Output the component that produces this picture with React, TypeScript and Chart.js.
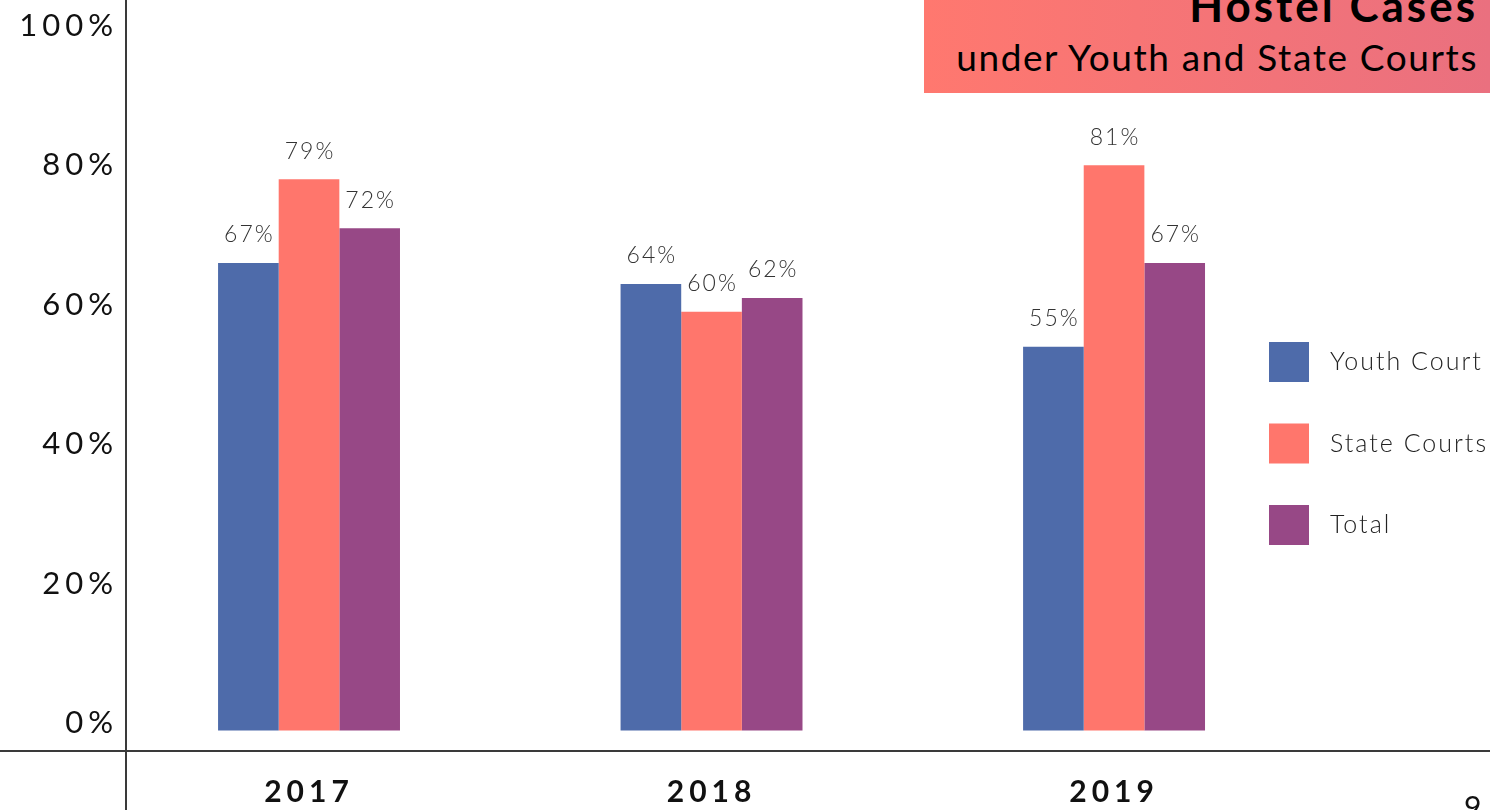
import React, { useEffect, useRef } from 'react';
import { Chart, registerables } from 'chart.js';

Chart.register(...registerables);

const years = ['2017', '2018', '2019'];
const youthCourt = [67, 64, 55];
const stateCourts = [79, 60, 81];
const total = [72, 62, 67];
const yTicks = [0, 20, 40, 60, 80, 100];
const seriesNames = ['Youth Court', 'State Courts', 'Total'];
const seriesColors = ['#4E6BAA', '#FF766C', '#974886'];
const seriesValues = [youthCourt, stateCourts, total];

const FONT = 'Lato, "Open Sans", sans-serif';

const spacingPlugin = {
  id: 'spacing',
  beforeUpdate(chart: any) {
    chart.ctx.letterSpacing = '5px';
  },
  beforeDraw(chart: any) {
    chart.ctx.letterSpacing = '5px';
  },
};

const axesLinePlugin = {
  id: 'axesLines',
  beforeDatasetsDraw(chart: any) {
    const { ctx, chartArea, scales } = chart;
    const y = scales.y;
    ctx.save();
    ctx.strokeStyle = '#3a3a3a';
    ctx.lineWidth = 2;
    ctx.beginPath();
    ctx.moveTo(chartArea.left, 0);
    ctx.lineTo(chartArea.left, chart.height);
    const by = y.getPixelForValue(y.min);
    ctx.moveTo(0, by);
    ctx.lineTo(chart.width, by);
    ctx.stroke();
    ctx.restore();
  },
};

const barLabelPlugin = {
  id: 'barLabels',
  afterDatasetsDraw(chart: any) {
    const { ctx } = chart;
    ctx.save();
    ctx.letterSpacing = '2px';
    ctx.font = `300 23px ${FONT}`;
    ctx.fillStyle = '#333';
    ctx.textAlign = 'center';
    ctx.textBaseline = 'middle';
    chart.data.datasets.forEach((ds: any, di: number) => {
      const meta = chart.getDatasetMeta(di);
      meta.data.forEach((el: any, i: number) => {
        ctx.fillText(`${ds.data[i].y}%`, el.x + 1, el.y - 28);
      });
    });
    ctx.restore();
  },
};

const legendPlugin = {
  id: 'customLegend',
  afterDraw(chart: any) {
    const { ctx } = chart;
    ctx.save();
    ctx.letterSpacing = '2px';
    ctx.font = `300 25px ${FONT}`;
    ctx.textBaseline = 'middle';
    ctx.textAlign = 'left';
    chart.data.datasets.forEach((ds: any, i: number) => {
      const cy = 362 + i * 81.5;
      ctx.fillStyle = ds.backgroundColor;
      ctx.fillRect(1269, cy - 20, 40, 40);
      ctx.fillStyle = '#222';
      ctx.fillText(ds.label, 1330, cy);
    });
    ctx.restore();
  },
};

function BarChart() {
  const ref = useRef<HTMLCanvasElement | null>(null);
  useEffect(() => {
    if (!ref.current) return;
    Chart.defaults.font.family = FONT;
    const chart = new Chart(ref.current, {
      type: 'bar',
      data: {
        datasets: seriesNames.map((name, s) => ({
          label: name,
          data: seriesValues[s].map((v, i) => ({ x: i, y: v })),
          backgroundColor: seriesColors[s],
          borderWidth: 0,
          categoryPercentage: 0.452,
          barPercentage: 1,
        })),
      },
      options: {
        responsive: false,
        animation: false,
        layout: { padding: 0 },
        plugins: { legend: { display: false }, tooltip: { enabled: false } },
        scales: {
          x: {
            type: 'linear',
            offset: false,
            min: -0.4547,
            max: 2.934,
            grid: { display: false, drawTicks: false, offset: false },
            border: { display: false },
            afterBuildTicks: (s: any) => {
              s.ticks = years.map((_, i) => ({ value: i }));
            },
            afterFit: (s: any) => {
              s.height = 59;
              s.paddingLeft = 0;
              s.paddingRight = 0;
            },
            ticks: {
              callback: (v: any) => years[v] ?? '',
              font: { size: 30, weight: 'bold' },
              color: '#111',
              padding: 23,
              maxRotation: 0,
              autoSkip: false,
            },
          },
          y: {
            min: -2.94,
            max: 104.7,
            grid: { display: false, drawTicks: false },
            border: { display: false },
            afterBuildTicks: (s: any) => {
              s.ticks = yTicks.map((v) => ({ value: v }));
            },
            afterFit: (s: any) => {
              s.width = 126;
              s.paddingTop = 0;
              s.paddingBottom = 0;
            },
            ticks: {
              callback: (v: any) => `${v}%`,
              font: { size: 31 },
              color: '#111',
              padding: 8,
              labelOffset: -7,
            },
          },
        },
      } as any,
      plugins: [spacingPlugin, axesLinePlugin, barLabelPlugin, legendPlugin],
    });
    return () => chart.destroy();
  }, []);
  return <canvas ref={ref} width={1490} height={810} style={{ display: 'block', width: 1490, height: 810 }} />;
}

export default function App() {
  return (
    <div style={{ position: 'fixed', left: 0, top: 0, width: 1490, height: 810, overflow: 'hidden', background: '#fff' }}>
      <BarChart />
      <div
        style={{
          position: 'absolute',
          left: 924,
          top: 0,
          width: 566,
          height: 93,
          background: 'linear-gradient(to right, #FF786F, #EA707F)',
          fontFamily: FONT,
          color: '#000',
          textAlign: 'right',
          overflow: 'hidden',
        }}
      >
        <div style={{ position: 'absolute', right: 12, top: -21, fontSize: 44, fontWeight: 700, letterSpacing: 3, lineHeight: '52px', whiteSpace: 'nowrap' }}>
          Hostel Cases
        </div>
        <div style={{ position: 'absolute', right: 12, top: 35, fontSize: 37, fontWeight: 400, letterSpacing: 1.6, lineHeight: '44px', whiteSpace: 'nowrap' }}>
          under Youth and State Courts
        </div>
      </div>
      <div style={{ position: 'absolute', left: 1464, top: 788, fontFamily: FONT, fontSize: 30, color: '#111', lineHeight: '36px' }}>9</div>
    </div>
  );
}
